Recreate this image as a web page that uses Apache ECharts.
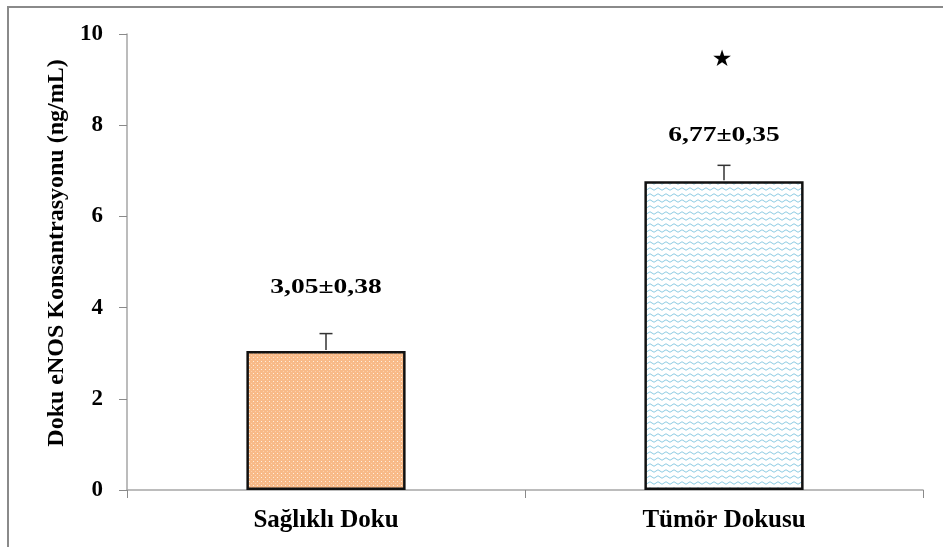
<!DOCTYPE html>
<html>
<head>
<meta charset="utf-8">
<script src="https://cdn.jsdelivr.net/npm/echarts@6/dist/echarts.min.js"></script>
<style>
  html, body { margin: 0; padding: 0; background: #fff; }
  #chart { width: 943px; height: 547px; }
</style>
</head>
<body>
<div id="chart"></div>
<script>
// Tissue eNOS concentration: healthy vs tumour tissue (mean ± SE)
const categories = ['Sağlıklı Doku', 'Tümör Dokusu'];
const means = [3.05, 6.77];
const errors = [0.38, 0.35];
const significant = [false, true];
const yTicks = [0, 2, 4, 6, 8, 10];

const FONT = '"Liberation Serif", "Times New Roman", serif';

// Orange fill with a fine grid of light dots
function dotPattern() {
  const c = document.createElement('canvas');
  c.width = 4; c.height = 4;
  const g = c.getContext('2d');
  g.fillStyle = '#F8BA88';
  g.fillRect(0, 0, 4, 4);
  g.fillStyle = 'rgba(255,240,225,0.95)';
  g.fillRect(1, 1, 1, 1);
  g.fillStyle = 'rgba(255,225,200,0.6)';
  g.fillRect(3, 3, 1, 1);
  return c;
}

// White fill with light-blue wavy lines
function wavePattern() {
  const c = document.createElement('canvas');
  c.width = 8; c.height = 6;
  const g = c.getContext('2d');
  g.fillStyle = '#ffffff';
  g.fillRect(0, 0, 8, 6);
  g.strokeStyle = '#8CCBE2';
  g.lineWidth = 1;
  g.beginPath();
  g.moveTo(0, 3);
  g.quadraticCurveTo(2, 0.5, 4, 3);
  g.quadraticCurveTo(6, 5.5, 8, 3);
  g.stroke();
  return c;
}

const fills = [dotPattern(), wavePattern()];
// pixel gap between whisker cap and the mean±SE text
const textGap = [46, 30];

const fmt = v => v.toFixed(2).replace('.', ',');

const chart = echarts.init(document.getElementById('chart'));

chart.setOption({
  animation: false,
  graphic: [{
    type: 'rect',
    shape: { x: 8, y: 7, width: 950, height: 560 },
    style: { fill: 'none', stroke: '#8a8a8a', lineWidth: 2 },
    silent: true
  }],
  grid: { left: 127, right: 20, top: 34, bottom: 57 },
  xAxis: {
    type: 'category',
    data: categories,
    axisLine: { lineStyle: { color: '#a6a6a6', width: 1.5 } },
    axisTick: { show: true, length: 8, inside: false, lineStyle: { color: '#8a8a8a' } },
    axisLabel: { color: '#000', fontFamily: FONT, fontWeight: 'bold', fontSize: 25, margin: 18 }
  },
  yAxis: {
    type: 'value',
    min: 0, max: 10, interval: 2,
    name: 'Doku eNOS Konsantrasyonu (ng/mL)',
    nameLocation: 'middle',
    nameGap: 57,
    nameRotate: 90,
    nameTextStyle: { color: '#000', fontFamily: FONT, fontWeight: 'bold', fontSize: 24, padding: [0, 0, 0, 18] },
    splitLine: { show: false },
    axisLine: { show: true, lineStyle: { color: '#a6a6a6', width: 1.5 } },
    axisTick: { show: true, length: 8, inside: false, lineStyle: { color: '#8a8a8a' } },
    axisLabel: {
      color: '#000', fontFamily: FONT, fontWeight: 'bold', fontSize: 23, margin: 24,
      formatter: v => yTicks.includes(v) ? String(v) : ''
    }
  },
  series: [
    {
      type: 'bar',
      data: means.map((v, i) => ({
        value: v,
        itemStyle: { color: { image: fills[i], repeat: 'repeat' } }
      })),
      barWidth: '40%',
      itemStyle: { borderColor: '#111', borderWidth: 2.5 },
      z: 2
    },
    {
      // upper error whiskers, mean±SE text and significance star
      type: 'custom',
      data: means.map((m, i) => [i, m, m + errors[i], errors[i], significant[i] ? 1 : 0]),
      renderItem: function (params, api) {
        const i = params.dataIndex;
        const base = api.coord([api.value(0), api.value(1)]);
        const top = api.coord([api.value(0), api.value(2)]);
        const cap = 6.5;
        const children = [
          { type: 'line', shape: { x1: base[0], y1: base[1] - 1, x2: top[0], y2: top[1] },
            style: { stroke: '#333', lineWidth: 1.5 } },
          { type: 'line', shape: { x1: top[0] - cap, y1: top[1], x2: top[0] + cap, y2: top[1] },
            style: { stroke: '#333', lineWidth: 1.5 } },
          { type: 'text', x: top[0], y: top[1] - textGap[i], scaleX: 1.25,
            style: { text: fmt(api.value(1)) + '±' + fmt(api.value(3)), fill: '#000',
                     font: 'bold 22px ' + FONT, align: 'center', verticalAlign: 'middle' } }
        ];
        if (api.value(4)) {
          const s = api.coord([api.value(0), 9.45]);
          children.push({
            type: 'text',
            style: { text: '★', x: s[0] - 2, y: s[1] + 1, fill: '#000', font: '23px "DejaVu Sans"',
                     align: 'center', verticalAlign: 'middle' }
          });
        }
        return { type: 'group', children };
      },
      z: 3
    }
  ]
});
</script>
</body>
</html>
